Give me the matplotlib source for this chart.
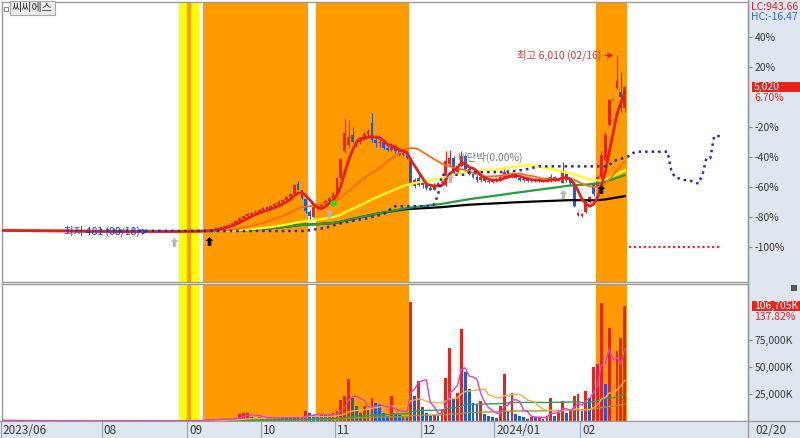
import numpy as np
import pandas as pd
import matplotlib
matplotlib.use("Agg")
import matplotlib.pyplot as plt
from matplotlib.patches import Rectangle
from matplotlib.path import Path
from matplotlib.lines import Line2D

plt.rcParams['font.family'] = ['Noto Sans CJK KR', 'DejaVu Sans']

stock_name = '씨씨에스'

# KRX holidays inside the window
holidays = ['2023-08-15', '2023-09-28', '2023-09-29', '2023-10-02', '2023-10-03',
            '2023-10-09', '2023-12-25', '2023-12-29', '2024-01-01', '2024-02-09', '2024-02-12']

# daily OHLC (won), 2023-06-26 .. 2024-02-20
opens = [522, 520, 515, 518, 512,
         510, 508, 505, 511, 506, 502, 500, 498, 503, 499, 495, 497, 493, 490, 494, 492, 489, 491, 488, 486, 490,
         487, 485, 488, 484, 486, 483, 485, 482, 484, 483, 485, 482, 484, 481, 483, 486, 488, 485, 490, 487, 492, 489,
         494, 495, 498, 502, 505, 510, 530, 560, 590, 620, 660, 700, 760, 830, 900, 970, 1020, 1070, 1110,
         1150, 1250, 1180, 1290, 1350, 1420, 1480, 1560, 1650, 1980, 1780, 1500, 1100, 950, 1240, 1300, 1360, 1440, 1530,
         1700, 2150, 3000, 3200, 3500, 3250, 3300, 3400, 3550, 3890, 3350, 3250, 3300, 3120, 3050, 3150, 3000, 2900, 2950, 2780, 1900, 2150,
         1950, 2000, 1850, 1800, 1950, 2000, 1950, 2600, 2800, 2350, 2550, 2850, 2450, 2300, 2200, 2100, 2200, 2080, 2040,
         2080, 2120, 2200, 2350, 2200, 2280, 2170, 2100, 2130, 2070, 2110, 2060, 2100, 2050, 2080, 2200, 2100, 2020, 2300, 2100, 1950, 1000,
         980, 1100, 1400, 2000, 1880, 2200, 2750, 3830, 4625, 5000, 4860, 4360]
highs = [526, 523, 521, 519, 515,
         513, 510, 514, 512, 508, 505, 502, 506, 504, 501, 500, 498, 495, 497, 495, 494, 494, 492, 490, 493, 491,
         489, 490, 489, 488, 487, 487, 486, 486, 485, 487, 486, 486, 485, 485, 488, 490, 489, 492, 491, 494, 493, 496,
         498, 500, 504, 507, 513, 540, 570, 610, 640, 680, 730, 790, 860, 940, 1010, 1060, 1110, 1160, 1200,
         1260, 1290, 1320, 1400, 1470, 1520, 1600, 1700, 1980, 2080, 1800, 1520, 1150, 1280, 1330, 1400, 1470, 1560, 1720,
         2200, 2800, 4050, 3980, 3760, 3400, 3450, 3600, 3700, 4200, 3500, 3400, 3350, 3200, 3250, 3200, 3080, 3000, 2980, 2800, 2150, 2300,
         2050, 2060, 1950, 2000, 2050, 2100, 3000, 3040, 2850, 2600, 3000, 2900, 2500, 2350, 2250, 2250, 2220, 2120, 2100,
         2150, 2250, 2450, 2380, 2350, 2300, 2200, 2160, 2150, 2140, 2130, 2120, 2110, 2110, 2300, 2220, 2150, 2660, 2320, 2150, 2000, 1100,
         1080, 1450, 1600, 2050, 2250, 3000, 3600, 4625, 4625, 6010, 5480, 5050]
lows = [516, 512, 513, 510, 507,
        504, 502, 504, 503, 500, 498, 495, 497, 496, 493, 494, 490, 488, 489, 490, 487, 488, 485, 484, 485, 485,
        483, 484, 482, 483, 481, 482, 480, 481, 481, 482, 480, 481, 479, 480, 482, 485, 483, 484, 485, 486, 487, 488,
        492, 493, 496, 500, 503, 505, 525, 550, 580, 610, 650, 690, 750, 810, 880, 940, 990, 1040, 1080,
        1130, 1150, 1170, 1270, 1330, 1390, 1460, 1540, 1620, 1780, 1500, 1080, 860, 920, 1180, 1260, 1330, 1400, 1500,
        1680, 2100, 2950, 3100, 3250, 3150, 3230, 3350, 3450, 3300, 3150, 3150, 3080, 3000, 3000, 2950, 2850, 2850, 2750, 1960, 1850, 1900,
        1850, 1800, 1780, 1790, 1900, 1950, 1900, 2500, 2300, 2300, 2500, 2400, 2250, 2150, 2050, 2050, 2050, 2000, 2000,
        2050, 2080, 2150, 2150, 2150, 2150, 2080, 2060, 2050, 2050, 2040, 2040, 2030, 2030, 2050, 2080, 2060, 2000, 2050, 1950, 1250, 960,
        950, 1080, 1380, 1600, 1850, 2150, 2700, 3800, 4625, 4950, 4240, 4250]
closes = [520, 515, 518, 512, 510,
          508, 505, 511, 506, 502, 500, 498, 503, 499, 495, 497, 493, 490, 494, 492, 489, 491, 488, 486, 490, 487,
          485, 488, 484, 486, 483, 485, 482, 484, 483, 485, 482, 484, 481, 483, 486, 488, 485, 490, 487, 492, 489, 494,
          495, 498, 502, 505, 510, 530, 560, 590, 620, 660, 700, 760, 830, 900, 970, 1020, 1070, 1110, 1150,
          1220, 1180, 1290, 1350, 1420, 1480, 1560, 1650, 1950, 1800, 1550, 1120, 980, 1240, 1300, 1360, 1440, 1530, 1690,
          2150, 2750, 3570, 3450, 3290, 3320, 3400, 3560, 3650, 3360, 3250, 3300, 3120, 3050, 3180, 3000, 2900, 2950, 2800, 1960, 2100, 1950,
          2000, 1850, 1800, 1950, 2000, 2050, 2700, 2800, 2350, 2550, 2850, 2450, 2300, 2200, 2100, 2200, 2080, 2040, 2080,
          2120, 2200, 2350, 2200, 2280, 2170, 2100, 2130, 2070, 2110, 2060, 2100, 2050, 2080, 2200, 2100, 2120, 2350, 2100, 2000, 1300, 1060,
          1050, 1400, 1560, 1650, 2200, 2900, 3510, 4625, 4625, 5200, 4705, 5020]
# volume in thousand shares
volumes = [420, 380, 350, 300, 280,
           260, 240, 310, 220, 200, 190, 210, 250, 180, 170, 160, 190, 150, 200, 170, 140, 160, 150, 130, 180, 150,
           140, 160, 130, 150, 170, 140, 160, 130, 120, 150, 140, 130, 180, 160, 210, 190, 170, 230, 200, 260, 240, 300,
           450, 520, 610, 700, 1200, 1500, 1800, 1400, 2000, 1700, 2200, 1600, 3000, 6500, 7000, 7300, 4000, 3000, 3500,
           2500, 3200, 2800, 3300, 2600, 4000, 3000, 2700, 3500, 3000, 3200, 9000, 7000, 5500, 5000, 6000, 5500, 5800, 7000,
           9000, 20000, 23000, 39000, 21000, 14000, 7500, 14000, 10000, 21000, 16700, 15000, 7500, 5000, 23000, 6500, 6000, 5000, 4000, 111000, 23000, 37000,
           13000, 7400, 4600, 6000, 4600, 11000, 40000, 68000, 21000, 26000, 86000, 46000, 30000, 17000, 15000, 18500, 6500, 5000, 4000,
           3000, 14000, 44000, 9000, 26000, 6500, 5000, 4000, 2000, 4000, 3500, 4000, 2000, 5000, 21000, 4600, 7000, 18500, 7000, 9000, 23000, 25000,
           9000, 28000, 21000, 50000, 53000, 110000, 34000, 87000, 0, 65000, 77424, 106705]

# signal shading (day index ranges) and markers
orange_days = [(48, 48), (52, 78), (81, 104), (153, 160)]
yellow_days = [(46, 47), (49, 50)]
gray_signal = [44, 84, 115, 144]
black_signal = [53, 154]
green_signal = [85]
box_text = '비단박(0.00%)'

month_keys = ['2023-06', '2023-08', '2023-09', '2023-10', '2023-11', '2023-12', '2024-01', '2024-02']
month_labels = ['2023/06', '08', '09', '10', '11', '12', '2024/01', '02']
price_pct_ticks = [40, 20, -20, -40, -60, -80, -100]
vol_ticks = [25000, 50000, 75000]

RED = '#e8231c'
BLUE = '#1f5ccc'
ORANGE_BG = '#ff9a00'
PANEL = '#dfe6ef'

dates = pd.bdate_range('2023-06-26', '2024-02-20')
dates = dates[~dates.isin(pd.to_datetime(holidays))]
o = np.array(opens, float)
h = np.array(highs, float)
l = np.array(lows, float)
c = np.array(closes, float)
v = np.array(volumes, float)
n = len(c)
x = np.arange(n)
base = c[-2]

W, H = 800, 438
PX0, DX = 2.5, 3.889   # pixel centre of day 0, pixels per day


def rect(x0, y0, x1, y1):
    return [x0 / W, 1 - y1 / H, (x1 - x0) / W, (y1 - y0) / H]


def xlim_for(x0, x1):
    return ((x0 - PX0) / DX, (x1 - PX0) / DX)


fig = plt.figure(figsize=(8, 4.38), dpi=100, facecolor='white')
fig.add_artist(Rectangle((748 / W, 0), 52 / W, 1, transform=fig.transFigure,
                         fc=PANEL, ec='none', zorder=-1))

ax_p = fig.add_axes(rect(2, 2, 748, 282))
ax_v = fig.add_axes(rect(2, 284, 748, 421))
ax_d = fig.add_axes(rect(0, 421, 748, 438), facecolor=PANEL)

for a in (ax_p, ax_v):
    a.set_xlim(*xlim_for(2, 748))
    a.set_xticks([])
    a.yaxis.tick_right()
    for sp in a.spines.values():
        sp.set_color('#9a9a9a')
        sp.set_linewidth(1)
    a.tick_params(axis='y', direction='out', length=3, width=0.8, color='#8a8a8a',
                  labelsize=7.5, labelcolor='#3a3a3a', pad=2)
    for s, e in orange_days:
        a.axvspan(s - 0.5, e + 0.5, color=ORANGE_BG, lw=0, zorder=0)
    for s, e in yellow_days:
        a.axvspan(s - 0.5, e + 0.5, color='#ffff00', lw=0, zorder=0)

# ---- price panel
ax_p.set_ylim(base * (1 - 1.2333), base * (1 + 0.6333))
ax_p.set_yticks([base * (1 + p / 100) for p in price_pct_ticks])
ax_p.set_yticklabels([f'{p}%' for p in price_pct_ticks])

cols = np.where(c >= o, RED, BLUE)
ax_p.vlines(x, l, h, colors=cols, lw=0.8, zorder=3)
body = np.maximum(np.abs(c - o), 25)
ax_p.bar(x, body, bottom=np.minimum(o, c), width=0.7, color=cols, lw=0, zorder=3)

cs = pd.Series(c)
ma_styles = [(240, 'black', 1.6), (100, '#22a040', 1.6), (50, '#ffff20', 1.6),
             (20, '#ff6a10', 1.3), (5, '#e81e1e', 2.0)]
for win, col, lw in ma_styles:
    ax_p.plot(x, cs.rolling(win, min_periods=1).mean(), color=col, lw=lw, zorder=4)

# leading span (52-day high/low midpoint, displaced forward)
shift = 25
span = (pd.Series(h).rolling(52, min_periods=1).max() + pd.Series(l).rolling(52, min_periods=1).min()) / 2
ax_p.plot(x + shift, span, color='#2a2ab8', lw=1.8, ls=(0, (1, 1.6)), zorder=5)
ax_p.hlines(0, n, n + shift - 1, color='#d83040', lw=1.6, ls=(0, (1, 1.2)), zorder=5)

arrow = Path([(0, 1), (-0.9, 0.1), (-0.4, 0.1), (-0.4, -1), (0.4, -1), (0.4, 0.1), (0.9, 0.1), (0, 1)])
ax_p.scatter(gray_signal, l[gray_signal] - 330, marker=arrow, s=40, color='#b8b8b8', zorder=6, lw=0)
ax_p.scatter(black_signal, l[black_signal] - 330, marker=arrow, s=40, color='black', zorder=6, lw=0)
ax_p.scatter(green_signal, l[green_signal] - 120, marker='o', s=22, color='#22e022', zorder=6, lw=0)

hi = int(np.argmax(h))
lo = int(np.argmin(c))
ax_p.annotate(f'최고 {int(h[hi]):,} ({dates[hi].strftime("%m/%d")})', xy=(hi - 0.9, h[hi]),
              xytext=(hi - 4.1, h[hi]), ha='right', va='center', fontsize=7.5, color='#d83838',
              arrowprops=dict(arrowstyle='->', color='#e02020', lw=1, shrinkA=1, shrinkB=0), zorder=7)
ax_p.annotate(f'최저 {int(c[lo]):,} ({dates[lo].strftime("%m/%d")})', xy=(lo - 0.6, c[lo]),
              xytext=(lo - 2.6, c[lo]), ha='right', va='center', fontsize=7.5, color='#2035d8',
              arrowprops=dict(arrowstyle='->', color='#2035d8', lw=1, shrinkA=1, shrinkB=0), zorder=7)
ax_p.text(117, base * (1 - 0.40), box_text, fontsize=7.5, color='#7a7a7a', va='center', zorder=7)

# ---- volume panel
ax_v.set_ylim(0, 127500)
ax_v.set_yticks(vol_ticks)
ax_v.set_yticklabels([f'{t:,}K' for t in vol_ticks])
vcols = np.where(np.r_[True, v[1:] >= v[:-1]], RED, BLUE)
ax_v.bar(x, v, width=0.72, color=vcols, lw=0, zorder=2)
vs = pd.Series(v)
for win, col in [(120, '#9a9a30'), (60, '#28a050'), (20, '#f0b050'), (5, '#e040c8')]:
    ax_v.plot(x, vs.rolling(win, min_periods=1).mean(), color=col, lw=1, zorder=3)

# ---- date strip
ax_d.set_xlim(*xlim_for(0, 748))
ax_d.set_ylim(0, 1)
ax_d.set_xticks([])
ax_d.set_yticks([])
for name, sp in ax_d.spines.items():
    sp.set_visible(name == 'top')
    sp.set_color('#9a9a9a')
ym = dates.strftime('%Y-%m')
for key, lab in zip(month_keys, month_labels):
    pos = int(np.argmax(ym == key)) - 0.5
    ax_d.axvline(pos, color='#98a2b0', lw=0.8)
    ax_d.text(pos + 0.5, 0.45, lab, fontsize=8.5, color='#3a3a3a', va='center', ha='left')
fig.add_artist(Line2D([748 / W, 748 / W], [0, 1], transform=fig.transFigure, color='#9a9a9a', lw=1))
fig.add_artist(Line2D([748 / W, 1], [17 / H, 17 / H], transform=fig.transFigure, color='#9a9a9a', lw=1))
fig.text(755 / W, 1 - 430 / H, dates[-1].strftime('%m/%d'), fontsize=8.5, color='#3a3a3a', va='center')

# ---- right-side readouts
lc = (c[-1] / c.min() - 1) * 100
hc = (c[-1] / h.max() - 1) * 100
fig.text(751 / W, 1 - 7 / H, f'LC:{lc:.2f}', fontsize=7.5, color='#e02828', va='center')
fig.text(751 / W, 1 - 17 / H, f'HC:{hc:.2f}', fontsize=7.5, color='#3a6ac8', va='center')


def readout(ax, val, label, sub):
    yc = ax.transData.transform((0, val))[1]
    fig.add_artist(Rectangle((752 / W, (yc - 5) / H), 48 / W, 10 / H, transform=fig.transFigure,
                             fc=RED, ec='none', zorder=5))
    fig.text(754 / W, yc / H, label, fontsize=7.5, color='white', va='center', zorder=6)
    fig.text(754 / W, (yc - 11) / H, sub, fontsize=7.5, color='#e02828', va='center', zorder=6)


readout(ax_p, c[-1], f'{int(c[-1]):,}', f'{(c[-1] / c[-2] - 1) * 100:.2f}%')
readout(ax_v, v[-1], f'{int(v[-1]):,}K', f'{v[-1] / v[-2] * 100:.2f}%')

# name tag and small icons
fig.add_artist(Rectangle((4 / W, 1 - 11 / H), 4 / W, 4 / H, transform=fig.transFigure,
                         fc='white', ec='#888888', lw=0.8, zorder=5))
fig.text(12 / W, 1 - 8 / H, stock_name, fontsize=8, color='#333333', va='center', zorder=6,
         bbox=dict(boxstyle='square,pad=0.15', fc='#ececec', ec='#a8a8a8', lw=0.8))
fig.add_artist(Rectangle((791 / W, 1 - 291 / H), 6 / W, 6 / H, transform=fig.transFigure,
                         fc='#555555', ec='none', zorder=5))

fig.savefig('out.png', dpi=100, facecolor='white')
